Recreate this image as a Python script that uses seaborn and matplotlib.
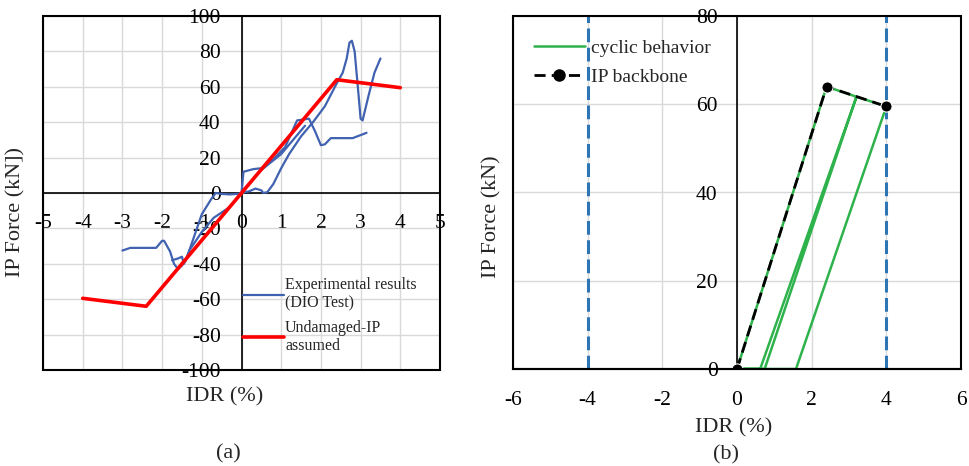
import numpy as np
import pandas as pd
import matplotlib
matplotlib.use("Agg")
import matplotlib.pyplot as plt
import seaborn as sns
from matplotlib.patches import Rectangle
from matplotlib.lines import Line2D

sns.set_theme(style="white")
plt.rcParams['font.family'] = ['Liberation Serif', 'DejaVu Serif']
plt.rcParams['axes.unicode_minus'] = False

# ---------------- data (a) ----------------
exp_seg = [1]*14 + [2]*25 + [3]*5 + [4]*19 + [5]*9
exp_idr = [0, 0.05, 0.3, 0.5, 0.8, 1.1, 1.4, 1.7, 1.85, 2.0, 2.1, 2.25, 2.8, 3.15,
           0, 0.2, 0.35, 0.5, 0.55, 0.65, 0.8, 1.0, 1.2, 1.5, 1.8, 2.0, 2.1, 2.4, 2.55, 2.65, 2.72, 2.78, 2.85, 2.95, 3.0, 3.05, 3.2, 3.35, 3.5,
           1.6, 1.0, 0.5, 0.1, 0,
           0, -0.1, -0.3, -0.5, -0.65, -0.75, -1.0, -1.2, -1.4, -1.5, -1.6, -1.7, -1.8, -1.95, -2.0, -2.15, -2.5, -2.8, -3.0,
           0, -0.3, -0.7, -1.0, -1.3, -1.45, -1.5, -1.6, -1.75]
exp_force = [0, 12, 13.5, 14, 19, 26, 41, 42, 35, 27, 27.5, 31, 31, 34,
             0, 1, 2.5, 1.5, 0, 0.5, 5, 14, 22, 32, 40, 46, 49, 62, 68, 76, 85, 86, 80, 55, 42, 41, 55, 68, 76,
             38, 22, 13, 3, 0,
             0, -0.5, -0.8, -0.5, 0, -3, -12, -25, -38, -41, -43, -40, -33, -27, -27, -31, -31, -31, -32.5,
             0, -8, -14, -22, -32, -40, -36, -37, -38]
und_idr = [-4, -2.4, 2.4, 4]
und_force = [-59.5, -64, 64, 59.5]

# ---------------- data (b) ----------------
cyc_idr = [0, 2.4, 3.2, 0.74, 0, 0.62, 3.2, 4.0, 1.58, 0]
cyc_force = [0, 64, 61.7, 0, 0, 0, 61.7, 59.5, 0, 0]
bb_idr = [0, 2.4, 4.0]
bb_force = [0, 64, 59.5]
limit_idr = [-4, 4]

BLUE = '#4062B0'
RED = '#FF0000'
GREEN = '#2EB24B'
DASHBLUE = '#2E75B6'
GRID = '#D9D9D9'

fig = plt.figure(figsize=(9.69, 4.66), dpi=100)
ax1 = fig.add_axes([43/969, 96/466, 397/969, 354/466])
ax2 = fig.add_axes([513/969, 97/466, 448/969, 353/466])

# ---------- panel (a) ----------
df_exp = pd.DataFrame({'seg': exp_seg, 'idr': exp_idr, 'force': exp_force})
sns.lineplot(data=df_exp, x='idr', y='force', units='seg', estimator=None, sort=False,
             color=BLUE, lw=1.6, ax=ax1, legend=False)
df_und = pd.DataFrame({'idr': und_idr, 'force': und_force})
sns.lineplot(data=df_und, x='idr', y='force', sort=False, estimator=None,
             color=RED, lw=2.6, ax=ax1, legend=False)
ax1.set_xlim(-5, 5)
ax1.set_ylim(-100, 100)
ax1.set_xticks(np.arange(-5, 6, 1))
ax1.set_yticks(np.arange(-100, 101, 20))
ax1.grid(True, color=GRID, lw=1)
ax1.set_axisbelow(True)
for s in ['top', 'right']:
    ax1.spines[s].set_visible(False)
ax1.spines['left'].set_position(('data', 0))
ax1.spines['bottom'].set_position(('data', 0))
for s in ['left', 'bottom']:
    ax1.spines[s].set_color('black')
    ax1.spines[s].set_linewidth(1.2)
    ax1.spines[s].set_zorder(1.5)
ax1.add_patch(Rectangle((0, 0), 1, 1, transform=ax1.transAxes, fill=False,
                        ec='black', lw=1.5, zorder=5, clip_on=False))
ax1.tick_params(axis='both', length=0, labelsize=15.5, colors='black')
ax1.tick_params(axis='x', pad=15)
ax1.tick_params(axis='y', pad=15)
ax1.set_xlabel('')
ax1.set_ylabel('')
fig.text(225/969, 1 - 397/466, 'IDR (%)', fontsize=16, ha='center', va='center')
fig.text(16/969, 1 - 212/466, 'IP Force (kN])', fontsize=16, ha='center', va='center', rotation=90)
fig.text(228/969, 1 - 454/466, '(a)', fontsize=16, ha='center', va='center')
h1 = [Line2D([], [], color=BLUE, lw=1.6), Line2D([], [], color=RED, lw=2.6)]
ax1.legend(h1, ['Experimental results\n(DIO Test)', 'Undamaged-IP\nassumed'],
           loc='upper left', bbox_to_anchor=(0.487, 0.28), frameon=False, fontsize=11.5,
           handlelength=2.6, handletextpad=0.05, labelspacing=0.5, borderaxespad=0)

# ---------- panel (b) ----------
df_cyc = pd.DataFrame({'idr': cyc_idr, 'force': cyc_force})
sns.lineplot(data=df_cyc, x='idr', y='force', sort=False, estimator=None,
             color=GREEN, lw=1.8, ax=ax2, legend=False, zorder=3)
df_bb = pd.DataFrame({'idr': bb_idr, 'force': bb_force})
sns.lineplot(data=df_bb, x='idr', y='force', sort=False, estimator=None,
             color='black', lw=2.0, ax=ax2, legend=False, zorder=4,
             marker='o', markersize=8, dashes=False)
ax2.lines[-1].set_linestyle((0, (4, 2.2)))
for xv in limit_idr:
    ax2.axvline(xv, color=DASHBLUE, lw=2.2, ls=(0, (4.5, 1.8)), zorder=2)
ax2.set_xlim(-6, 6)
ax2.set_ylim(0, 80)
ax2.set_xticks(np.arange(-6, 7, 2))
ax2.set_yticks(np.arange(0, 81, 20))
ax2.grid(True, color=GRID, lw=1)
ax2.set_axisbelow(True)
for s in ['top', 'right']:
    ax2.spines[s].set_visible(False)
ax2.spines['left'].set_position(('data', 0))
ax2.spines['left'].set_color('black')
ax2.spines['left'].set_linewidth(1.2)
ax2.spines['bottom'].set_color('black')
ax2.spines['bottom'].set_linewidth(1.5)
ax2.add_patch(Rectangle((0, 0), 1, 1, transform=ax2.transAxes, fill=False,
                        ec='black', lw=1.5, zorder=5, clip_on=False))
ax2.tick_params(axis='y', direction='inout', length=12, width=1.2, labelsize=15.5,
                colors='black', pad=8)
ax2.tick_params(axis='x', length=0, labelsize=15.5, colors='black', pad=16)
ax2.set_xlabel('')
ax2.set_ylabel('')
fig.text(734/969, 1 - 428/466, 'IDR (%)', fontsize=16, ha='center', va='center')
fig.text(492/969, 1 - 217/466, 'IP Force (kN)', fontsize=16, ha='center', va='center', rotation=90)
fig.text(726/969, 1 - 455/466, '(b)', fontsize=16, ha='center', va='center')
h2 = [Line2D([], [], color=GREEN, lw=1.8),
      Line2D([], [], color='black', lw=2.0, ls=(0, (4, 2.2)), marker='o', markersize=8)]
ax2.legend(h2, ['cyclic behavior', 'IP backbone'], loc='upper left',
           bbox_to_anchor=(0.03, 0.955), frameon=False, fontsize=14,
           handlelength=2.6, handletextpad=0.3, labelspacing=0.55, borderaxespad=0)

fig.savefig('out.png', dpi=100)
